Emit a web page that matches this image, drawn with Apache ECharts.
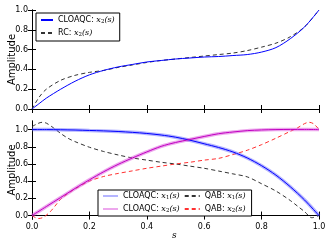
<!DOCTYPE html>
<html><head><meta charset="utf-8">
<script src="https://cdn.jsdelivr.net/npm/echarts@6/dist/echarts.min.js"></script>
<style>html,body{margin:0;padding:0;background:#fff}#c{width:332px;height:248px}</style>
</head><body><div id="c"></div>
<script>
// Top panel: x2(s)
const topS       = [0,0.025,0.05,0.1,0.15,0.2,0.25,0.3,0.35,0.4,0.45,0.5,0.55,0.6,0.65,0.7,0.75,0.8,0.85,0.9,0.95,1.0];
const cloaqcTopX2= [0,0.055,0.11,0.2,0.28,0.345,0.39,0.425,0.45,0.475,0.49,0.505,0.515,0.525,0.53,0.54,0.55,0.575,0.62,0.71,0.83,1.0];
const rcX2       = [0,0.12,0.2,0.29,0.34,0.37,0.39,0.42,0.445,0.47,0.49,0.505,0.52,0.535,0.55,0.565,0.59,0.625,0.665,0.73,0.83,1.0];
// Bottom panel
const botS       = [0,0.05,0.1,0.15,0.2,0.25,0.3,0.35,0.4,0.45,0.5,0.55,0.6,0.65,0.7,0.75,0.8,0.85,0.9,0.95,1.0];
const cloaqcX1   = [1.0,1.0,0.998,0.995,0.99,0.985,0.978,0.968,0.955,0.937,0.912,0.877,0.835,0.792,0.74,0.67,0.58,0.47,0.335,0.18,0.0];
const cloaqcX2   = [0,0.105,0.21,0.315,0.415,0.51,0.595,0.67,0.74,0.805,0.85,0.885,0.92,0.952,0.972,0.988,0.996,1.0,1.002,1.002,1.0];
const qabS1      = [0,0.02,0.035,0.05,0.075,0.1,0.125,0.15,0.2,0.25,0.3,0.35,0.4,0.45,0.5,0.55,0.6,0.65,0.7,0.75,0.8,0.85,0.9,0.925,0.95,0.975,1.0];
const qabX1      = [1.035,1.07,1.085,1.075,1.02,0.955,0.9,0.86,0.795,0.745,0.705,0.67,0.645,0.62,0.6,0.575,0.55,0.518,0.485,0.45,0.37,0.285,0.175,0.11,0.045,-0.025,0.0];
const qabS2      = [0,0.022,0.04,0.063,0.08,0.1,0.125,0.15,0.2,0.25,0.3,0.35,0.4,0.45,0.5,0.55,0.6,0.65,0.7,0.75,0.8,0.85,0.9,0.925,0.95,0.965,0.98,1.0];
const qabX2      = [0,-0.035,-0.02,0.043,0.11,0.19,0.255,0.31,0.4,0.455,0.49,0.52,0.55,0.575,0.6,0.62,0.645,0.665,0.71,0.76,0.825,0.9,0.98,1.02,1.07,1.085,1.07,1.003];
const xTicks     = [0,0.2,0.4,0.6,0.8,1.0];
const yTicks     = [0,0.2,0.4,0.6,0.8,1.0];

const pair = (xs, ys) => xs.map((x, i) => [x, ys[i]]);
const F = 'DejaVu Sans';
const lbl = {fontFamily: F, fontSize: 8, color: '#000'};
const tick = {show: true, inside: true, length: 4, lineStyle: {color: '#000', width: 1}};
const line = {show: true, lineStyle: {color: '#000', width: 1}};
const fmt = v => v.toFixed(1);

function xAx(grid, pos, labels) {
  return {type: 'value', gridIndex: grid, position: pos, min: 0, max: 1, interval: 0.2,
    axisLine: line, axisTick: tick, splitLine: {show: false},
    axisLabel: Object.assign({show: labels, margin: 4, formatter: fmt}, lbl)};
}
function yAx(grid, pos, labels, min, max, name) {
  return {type: 'value', gridIndex: grid, position: pos, min: min, max: max,
    axisLine: line, splitLine: {show: false},
    axisTick: Object.assign({customValues: yTicks}, tick),
    axisLabel: Object.assign({show: labels, margin: 4, formatter: fmt, customValues: yTicks}, lbl),
    name: name || '', nameLocation: 'middle', nameGap: 15, nameMoveOverlap: false,
    nameTextStyle: {fontFamily: F, fontSize: 10, color: '#000'}};
}
const rich = {
  t: {fontFamily: F, fontSize: 8, color: '#000'},
  i: {fontFamily: 'DejaVu Serif', fontStyle: 'italic', fontSize: 8, color: '#000'},
  sub: {fontFamily: 'DejaVu Serif', fontSize: 5.5, color: '#000', padding: [4, 0, 0, 0]}
};
const legFmt = n => {
  const m = n.match(/^(.*: )x(\d)\(s\)$/);
  return m ? '{t|' + m[1] + '}{i|x}{sub|' + m[2] + '}{i|(s)}' : n;
};

const chart = echarts.init(document.getElementById('c'), null, {renderer: 'canvas'});
chart.setOption({
  animation: false,
  backgroundColor: '#fff',
  grid: [
    {left: 32, right: 13, top: 10, height: 99, containLabel: false, outerBoundsMode: 'none'},
    {left: 32, right: 13, top: 121, height: 98, containLabel: false, outerBoundsMode: 'none'}
  ],
  xAxis: [
    xAx(0, 'bottom', false), xAx(0, 'top', false),
    xAx(1, 'bottom', true), xAx(1, 'top', false)
  ],
  yAxis: [
    yAx(0, 'left', true, 0, 1, 'Amplitude'), yAx(0, 'right', false, 0, 1),
    yAx(1, 'left', true, -0.04, 1.1, 'Amplitude'), yAx(1, 'right', false, -0.04, 1.1)
  ],
  graphic: [{type: 'text', left: 172, top: 231,
    style: {text: 's', fontFamily: 'DejaVu Serif', fontStyle: 'italic', fontSize: 9, fill: '#000'}}],
  legend: [
    {data: ['CLOAQC: x2(s)', 'RC: x2(s)'], orient: 'vertical', left: 36, top: 13,
     itemWidth: 12, itemHeight: 8, itemGap: 4, padding: [3, 5, 3, 4],
     itemStyle: {opacity: 0},
     borderColor: '#000', borderWidth: 1, borderRadius: 0, backgroundColor: '#fff',
     formatter: legFmt, textStyle: {rich: rich, fontSize: 8}},
    {data: ['CLOAQC: x1(s)', 'CLOAQC: x2(s) ', 'QAB: x1(s)', 'QAB: x2(s)'], orient: 'vertical',
     left: 98, top: 190, height: 24, itemWidth: 15, itemHeight: 8, itemGap: 4, padding: [2, 6, 2, 4],
     itemStyle: {opacity: 0},
     borderColor: '#000', borderWidth: 1, borderRadius: 0, backgroundColor: '#fff',
     formatter: n => legFmt(n.trim()), textStyle: {rich: rich, fontSize: 8}}
  ],
  series: [
    {name: 'RC: x2(s)', type: 'line', xAxisIndex: 0, yAxisIndex: 0, data: pair(topS, rcX2), smooth: 0.3,
     symbol: 'none', lineStyle: {color: '#333', width: 1, type: [4, 3]}, itemStyle: {color: '#333'}},
    {name: 'CLOAQC: x2(s)', type: 'line', xAxisIndex: 0, yAxisIndex: 0, data: pair(topS, cloaqcTopX2), smooth: 0.3,
     symbol: 'none', lineStyle: {color: '#0000ff', width: 1}, itemStyle: {color: '#0000ff'}},

    {name: 'QAB: x1(s)', type: 'line', xAxisIndex: 2, yAxisIndex: 2, data: pair(qabS1, qabX1), smooth: 0.3,
     symbol: 'none', lineStyle: {color: '#333', width: 1, type: [4, 3]}, itemStyle: {color: '#333'}},
    {name: 'QAB: x2(s)', type: 'line', xAxisIndex: 2, yAxisIndex: 2, data: pair(qabS2, qabX2), smooth: 0.3,
     symbol: 'none', lineStyle: {color: '#ff3030', width: 1, type: [4, 3]}, itemStyle: {color: '#ff3030'}},
    {name: 'CLOAQC: x1(s)', type: 'line', xAxisIndex: 2, yAxisIndex: 2, data: pair(botS, cloaqcX1), smooth: 0.3,
     symbol: 'none', lineStyle: {color: 'rgba(90,90,255,0.45)', width: 3.5}, itemStyle: {color: 'rgba(90,90,255,0.45)'}},
    {name: 'CLOAQC: x2(s) ', type: 'line', xAxisIndex: 2, yAxisIndex: 2, data: pair(botS, cloaqcX2), smooth: 0.3,
     symbol: 'none', lineStyle: {color: 'rgba(220,80,220,0.5)', width: 3.5}, itemStyle: {color: 'rgba(220,80,220,0.5)'}},
    {name: 'x1 core', type: 'line', xAxisIndex: 2, yAxisIndex: 2, data: pair(botS, cloaqcX1), smooth: 0.3,
     symbol: 'none', lineStyle: {color: '#0000ff', width: 1}},
    {name: 'x2 core', type: 'line', xAxisIndex: 2, yAxisIndex: 2, data: pair(botS, cloaqcX2), smooth: 0.3,
     symbol: 'none', lineStyle: {color: '#c000c0', width: 1}}
  ]
});
</script></body></html>
